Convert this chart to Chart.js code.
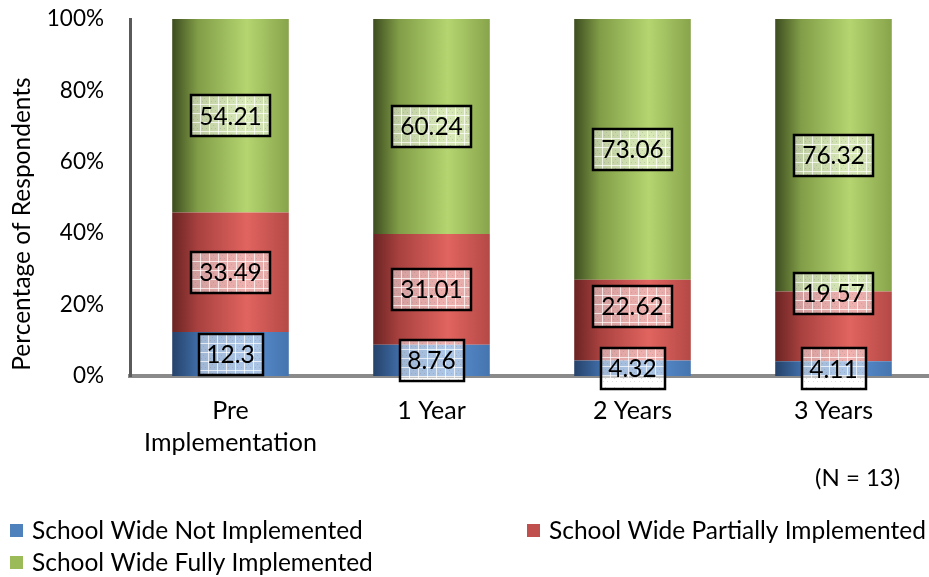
<!DOCTYPE html>
<html>
<head>
<meta charset="utf-8">
<script src="https://cdn.jsdelivr.net/npm/chart.js@4.4.1/dist/chart.umd.min.js"></script>
<style>
  html, body { margin: 0; padding: 0; background: #ffffff; overflow: hidden; }
  #wrap { width: 929px; height: 577px; overflow: hidden; position: relative; }
  canvas { display: block; }
</style>
</head>
<body>
<div id="wrap"><canvas id="chart" width="936" height="577"></canvas></div>
<script>
// Implementation stages along the x axis
const categories = [['Pre', 'Implementation'], '1 Year', '2 Years', '3 Years'];

// Share of respondents (%) per stage
const notImplemented       = [12.3, 8.76, 4.32, 4.11];
const partiallyImplemented = [33.49, 31.01, 22.62, 19.57];
const fullyImplemented     = [54.21, 60.24, 73.06, 76.32];

const seriesNames = [
  'School Wide Not Implemented',
  'School Wide Partially Implemented',
  'School Wide Fully Implemented'
];

// Percentage axis ticks
const yTickValues = [0, 20, 40, 60, 80, 100];

const FONT = 'Lato, "Open Sans", sans-serif';
const BAR_PCT = 0.58;

// Cylinder-like shading for each series: dark edge, bright ridge, medium right side
const shades = [
  { solid: '#4f81bd', stops: ['#25426a', '#3f6ca6', '#5b8fd2', '#4575af'] },
  { solid: '#c0504d', stops: ['#6a2423', '#a8413f', '#e1645f', '#b44946'] },
  { solid: '#9bbb59', stops: ['#3d4d20', '#819d47', '#b4d570', '#88a44b'] }
];

function shadedFill(seriesIndex) {
  return (ctx) => {
    const chart = ctx.chart;
    const xs = chart.scales && chart.scales.x;
    if (!chart.chartArea || !xs || ctx.dataIndex === undefined) return shades[seriesIndex].solid;
    const catW = xs.width / categories.length;
    const w = catW * BAR_PCT;
    const cx = xs.getPixelForValue(ctx.dataIndex);
    const g = chart.ctx.createLinearGradient(cx - w / 2, 0, cx + w / 2, 0);
    const s = shades[seriesIndex].stops;
    g.addColorStop(0, s[0]);
    g.addColorStop(0.22, s[1]);
    g.addColorStop(0.64, s[2]);
    g.addColorStop(1, s[3]);
    return g;
  };
}

// Light grid texture used inside the value boxes
function makeBoxPattern(ctx) {
  const c = document.createElement('canvas');
  c.width = 9; c.height = 9;
  const p = c.getContext('2d');
  p.fillStyle = 'rgba(255,255,255,0.5)';
  p.fillRect(0, 0, 9, 9);
  p.fillStyle = 'rgba(255,255,255,0.7)';
  p.fillRect(0, 0, 9, 1);
  p.fillRect(0, 0, 1, 9);
  p.fillStyle = 'rgba(120,120,120,0.25)';
  p.fillRect(4, 3, 1, 1);
  p.fillRect(2, 6, 1, 1);
  p.fillRect(6, 6, 1, 1);
  return ctx.createPattern(c, 'repeat');
}

// Boxed value labels centred on each segment
const valueBoxes = {
  id: 'valueBoxes',
  afterDatasetsDraw(chart, args, opts) {
    const ctx = chart.ctx;
    const pattern = makeBoxPattern(ctx);
    ctx.save();
    ctx.font = opts.fontSize + 'px ' + FONT;
    ctx.textAlign = 'center';
    ctx.textBaseline = 'middle';
    chart.data.datasets.forEach((ds, di) => {
      const meta = chart.getDatasetMeta(di);
      meta.data.forEach((el, i) => {
        const text = String(ds.data[i]);
        const shift = (opts.shift[di + ':' + i]) || 0;
        const cx = el.x;
        const cy = (el.y + el.base) / 2 + shift;
        const tw = ctx.measureText(text).width;
        const bw = Math.round(tw + 2 * opts.padX);
        const bh = opts.boxHeight;
        const x0 = Math.round(cx - bw / 2), y0 = Math.round(cy - bh / 2);
        ctx.save();
        ctx.translate(x0, y0);
        ctx.fillStyle = pattern;
        ctx.fillRect(0, 0, bw, bh);
        ctx.restore();
        ctx.lineWidth = 2.5;
        ctx.strokeStyle = '#000000';
        ctx.strokeRect(x0, y0, bw, bh);
        ctx.fillStyle = '#000000';
        ctx.fillText(text, cx, cy + 1);
      });
    });
    ctx.restore();
  }
};

// Axis title, sample size note and the two-column legend
const decorations = {
  id: 'decorations',
  afterDraw(chart) {
    const ctx = chart.ctx;
    ctx.save();
    ctx.fillStyle = '#000000';

    ctx.save();
    ctx.font = '24.5px ' + FONT;
    ctx.translate(22, 224);
    ctx.rotate(-Math.PI / 2);
    ctx.textAlign = 'center';
    ctx.textBaseline = 'middle';
    ctx.fillText('Percentage of Respondents', 0, 0);
    ctx.restore();

    ctx.textAlign = 'left';
    ctx.textBaseline = 'middle';
    ctx.font = '24px ' + FONT;
    ctx.fillText('(N = 13)', 815, 478);

    ctx.font = '24.5px ' + FONT;
    const items = [
      { x: 10, y: 531 },
      { x: 527, y: 531 },
      { x: 10, y: 563 }
    ];
    items.forEach((it, k) => {
      ctx.fillStyle = shades[k].solid;
      ctx.fillRect(it.x, it.y - 7, 13, 13);
      ctx.fillStyle = '#000000';
      ctx.fillText(seriesNames[k], it.x + 22, it.y);
    });
    ctx.restore();
  }
};

function build() {
  new Chart(document.getElementById('chart'), {
    type: 'bar',
    data: {
      labels: categories,
      datasets: [
        { label: seriesNames[0], data: notImplemented, backgroundColor: shadedFill(0) },
        { label: seriesNames[1], data: partiallyImplemented, backgroundColor: shadedFill(1) },
        { label: seriesNames[2], data: fullyImplemented, backgroundColor: shadedFill(2) }
      ]
    },
    options: {
      responsive: false,
      animation: false,
      devicePixelRatio: 1,
      datasets: { bar: { categoryPercentage: 1, barPercentage: BAR_PCT, borderWidth: 0 } },
      layout: { padding: { top: 19, right: 2, left: 0, bottom: 0 } },
      plugins: {
        legend: { display: false },
        tooltip: { enabled: false },
        valueBoxes: {
          fontSize: 24.5, padX: 8, boxHeight: 41,
          shift: { '1:2': -14, '1:3': -33 }
        }
      },
      scales: {
        x: {
          stacked: true,
          grid: { display: false, drawTicks: false, tickLength: 0 },
          border: { display: true, color: '#8a8a8a', width: 4 },
          ticks: { color: '#000000', font: { family: FONT, size: 25, lineHeight: 1.28 }, padding: 19, maxRotation: 0 },
          afterFit(scale) { scale.height = 201; scale.paddingLeft = 0; scale.paddingRight = 0; }
        },
        y: {
          stacked: true,
          min: 0, max: 100,
          afterBuildTicks(scale) { scale.ticks = yTickValues.map(v => ({ value: v })); },
          grid: { display: false, drawTicks: false, tickLength: 0 },
          border: { display: true, color: '#5a5a5a', width: 3 },
          ticks: { color: '#000000', font: { family: FONT, size: 22.5 }, padding: 26, callback: v => v + '%' },
          afterFit(scale) { scale.width = 130; scale.paddingTop = 0; scale.paddingBottom = 0; }
        }
      }
    },
    plugins: [valueBoxes, decorations]
  });
}

if (document.fonts && document.fonts.load) {
  Promise.all([document.fonts.load('20px Lato'), document.fonts.load('24px Lato')]).then(build, build);
} else {
  build();
}
</script>
</body>
</html>
